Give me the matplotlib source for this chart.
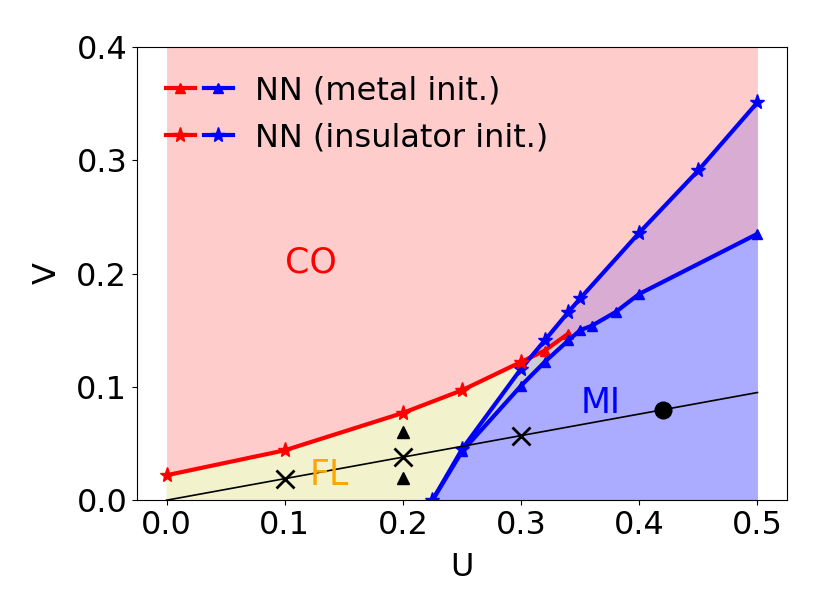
import numpy as np
import matplotlib
matplotlib.use("Agg")
import matplotlib.pyplot as plt
from matplotlib.legend_handler import HandlerTuple

# insulator init, CO boundary (red stars)
U_co_ins = [0.0, 0.1, 0.2, 0.25, 0.3]
V_co_ins = [0.022, 0.044, 0.077, 0.097, 0.122]
# metal init, CO boundary (red triangles)
U_co_met = [0.3, 0.32, 0.34]
V_co_met = [0.122, 0.132, 0.147]
# metal init, MI boundary (blue triangles)
U_mi_met = [0.225, 0.25, 0.3, 0.32, 0.34, 0.35, 0.36, 0.38, 0.4, 0.5]
V_mi_met = [0.0, 0.043, 0.101, 0.122, 0.141, 0.150, 0.154, 0.166, 0.182, 0.235]
# insulator init, MI boundary (blue stars)
U_mi_ins = [0.225, 0.25, 0.3, 0.32, 0.34, 0.35, 0.4, 0.45, 0.5]
V_mi_ins = [0.0, 0.045, 0.116, 0.141, 0.166, 0.178, 0.236, 0.291, 0.351]

# black cut line and points on it
U_cut = [0.0, 0.5]
V_cut = [0.0, 0.095]
U_x = [0.1, 0.2, 0.3]
V_x = [0.019, 0.038, 0.057]
U_tri = [0.2, 0.2]
V_tri = [0.06, 0.02]
U_dot = [0.42]
V_dot = [0.080]

fig = plt.figure(figsize=(8.22, 6.16), dpi=100)
ax = fig.add_axes([0.1667, 0.188, 0.7907, 0.736])

# filled phases
U_top = U_co_ins + U_co_met[1:] + U_mi_met[5:]
V_top = V_co_ins + V_co_met[1:] + V_mi_met[5:]
ax.fill_between(U_top, V_top, 0.4, color='r', alpha=0.2, lw=0)

fl_x = [0.0] + U_co_ins + U_co_met[1:] + U_mi_met[4::-1]
fl_y = [0.0] + V_co_ins + V_co_met[1:] + V_mi_met[4::-1]
ax.fill(fl_x, fl_y, color='y', alpha=0.2, lw=0)

ax.fill_between(U_mi_met, 0, V_mi_met, color='b', alpha=0.21, lw=0)
ax.fill_between(U_mi_ins, 0, V_mi_ins, color='b', alpha=0.15, lw=0)

# boundaries
l1, = ax.plot(U_co_met, V_co_met, 'r-^', lw=3, ms=7)
l2, = ax.plot(U_mi_met, V_mi_met, 'b-^', lw=3, ms=7)
l3, = ax.plot(U_mi_ins, V_mi_ins, 'b-*', lw=3, ms=11)
l4, = ax.plot(U_co_ins, V_co_ins, 'r-*', lw=3, ms=11)

ax.plot(U_cut, V_cut, 'k-', lw=1.2)
ax.plot(U_x, V_x, 'kx', ms=13, mew=2)
ax.plot(U_tri, V_tri, 'k^', ms=8)
ax.plot(U_dot, V_dot, 'ko', ms=12)

ax.text(0.122, 0.21, 'CO', color='r', fontsize=25, ha='center', va='center')
ax.text(0.138, 0.022, 'FL', color='orange', fontsize=25, ha='center', va='center')
ax.text(0.367, 0.086, 'MI', color='b', fontsize=25, ha='center', va='center')

ax.legend([(l1, l2), (l4, l3)], ['NN (metal init.)', 'NN (insulator init.)'],
          handler_map={tuple: HandlerTuple(ndivide=None, pad=0.3)},
          loc='upper left', frameon=False, fontsize=23, handlelength=2.1,
          handletextpad=0.7)

ax.set_xlim(-0.025, 0.525)
ax.set_ylim(0, 0.4)
ax.set_xticks([0.0, 0.1, 0.2, 0.3, 0.4, 0.5])
ax.set_yticks([0.0, 0.1, 0.2, 0.3, 0.4])
ax.tick_params(labelsize=23)
ax.set_xlabel('U', fontsize=23, labelpad=8)
ax.set_ylabel('V', fontsize=23, labelpad=10)

fig.savefig('out.png', dpi=100)
